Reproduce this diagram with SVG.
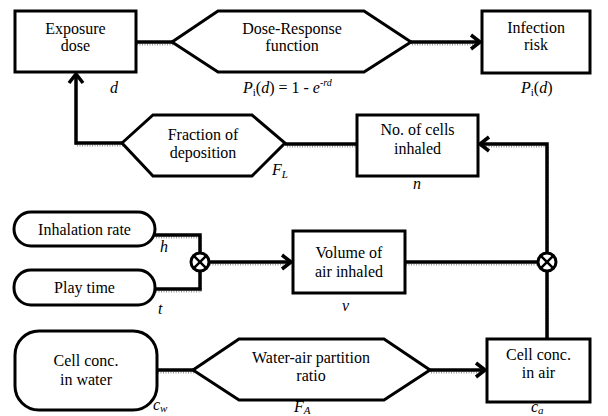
<svg xmlns="http://www.w3.org/2000/svg" width="608" height="416" viewBox="0 0 608 416" font-family="Liberation Serif, Times New Roman, Tinos, Noto Serif, DejaVu Serif, serif">
<defs>
<style>
text{font-family:"Liberation Serif","Times New Roman",Tinos,"Noto Serif","DejaVu Serif",serif}
.box{fill:#fff;stroke:#000;stroke-width:3}
.t{font-size:16px;text-anchor:middle;fill:#000}
.lab{font-size:16px;font-style:italic;fill:#000}
.ln{fill:none;stroke:#000;stroke-width:3.5;stroke-linejoin:miter}
.sh{fill:none;stroke:#9a9a9a;stroke-width:2;stroke-dasharray:1 1.5}
.mul{fill:#fff;stroke:#000;stroke-width:3}
</style>
<marker id="arr" markerUnits="userSpaceOnUse" viewBox="-12 -9 14 18" refX="0" refY="0" markerWidth="14" markerHeight="18" orient="auto">
<path d="M -9 -7 L 0 0 L -9 7" fill="none" stroke="#000" stroke-width="3.5"/>
</marker>
</defs>
<rect width="608" height="416" fill="#fff"/>

<g id="connectors">
<g transform="translate(1,2.5)">
<path class="sh" d="M136 42 H172"/>
<path class="sh" d="M411 42 H478"/>
<path class="sh" d="M122 143 H75 V76"/>
<path class="sh" d="M357 144 H285"/>
<path class="sh" d="M547 253 V144 H482"/>
<path class="sh" d="M155 235 H200 V253"/>
<path class="sh" d="M155 289 H200 V271"/>
<path class="sh" d="M209 262 H289"/>
<path class="sh" d="M405 262 H538"/>
<path class="sh" d="M547 339 V271"/>
<path class="sh" d="M157 370 H193"/>
<path class="sh" d="M430 370 H483"/>
</g>
<path class="ln" d="M136 42 H172"/>
<path class="ln" d="M411 42 H480" marker-end="url(#arr)"/>
<path class="ln" d="M122 143 H76 V74" marker-end="url(#arr)"/>
<path class="ln" d="M357 144 H285"/>
<path class="ln" d="M547 253 V144 H480" marker-end="url(#arr)"/>
<path class="ln" d="M155 235 H200 V253"/>
<path class="ln" d="M155 289 H200 V271"/>
<path class="ln" d="M209 262 H291" marker-end="url(#arr)"/>
<path class="ln" d="M405 262 H538"/>
<path class="ln" d="M547 339 V271"/>
<path class="ln" d="M157 370 H193"/>
<path class="ln" d="M430 370 H485" marker-end="url(#arr)"/>
</g>

<g id="mult1">
<circle class="mul" cx="200" cy="262" r="9"/>
<path d="M193.6 255.6 L206.4 268.4 M206.4 255.6 L193.6 268.4" stroke="#000" stroke-width="2.5"/>
</g>
<g id="mult2">
<circle class="mul" cx="547" cy="262" r="9"/>
<path d="M540.6 255.6 L553.4 268.4 M553.4 255.6 L540.6 268.4" stroke="#000" stroke-width="2.5"/>
</g>

<g id="exposure">
<rect class="box" x="15" y="11" width="121" height="61"/>
<text class="t" x="75.5" y="34">Exposure</text>
<text class="t" x="75.5" y="51">dose</text>
<text class="lab" x="110" y="93">d</text>
</g>

<g id="doseresponse">
<polygon class="box" points="172,42 218,11 364,11 411,42 364,72 218,72"/>
<text class="t" x="292" y="34">Dose-Response</text>
<text class="t" x="292" y="51">function</text>
<text class="lab" x="243" y="93">P<tspan font-style="normal" font-size="11" dy="3">i</tspan><tspan dy="-3" font-style="normal">(</tspan>d<tspan font-style="normal">) = 1 - </tspan>e<tspan font-size="10" dy="-7">-rd</tspan></text>
</g>

<g id="infection">
<rect class="box" x="482" y="11" width="108" height="62"/>
<text class="t" x="536" y="33">Infection</text>
<text class="t" x="536" y="50">risk</text>
<text class="lab" x="521" y="93">P<tspan font-style="normal" font-size="11" dy="3">i</tspan><tspan dy="-3" font-style="normal">(</tspan>d<tspan font-style="normal">)</tspan></text>
</g>

<g id="fraction">
<polygon class="box" points="122,143 153,115 252,115 285,143 252,176 153,176"/>
<text class="t" x="203" y="140">Fraction of</text>
<text class="t" x="203" y="158">deposition</text>
<text class="lab" x="272" y="175">F<tspan font-size="11" dy="3">L</tspan></text>
</g>

<g id="cellsinhaled">
<rect class="box" x="357" y="115" width="121" height="61"/>
<text class="t" x="417.5" y="135">No. of cells</text>
<text class="t" x="417.5" y="154">inhaled</text>
<text class="lab" x="413" y="189">n</text>
</g>

<g id="inhalation">
<rect class="box" x="14" y="212" width="141" height="34" rx="17"/>
<text class="t" x="84.5" y="235">Inhalation rate</text>
<text class="lab" x="160" y="252">h</text>
</g>

<g id="playtime">
<rect class="box" x="14" y="270" width="141" height="35" rx="17"/>
<text class="t" x="84.5" y="293">Play time</text>
<text class="lab" x="158" y="314">t</text>
</g>

<g id="volume">
<rect class="box" x="293" y="231" width="112" height="62"/>
<text class="t" x="349" y="258">Volume of</text>
<text class="t" x="349" y="277">air inhaled</text>
<text class="lab" x="342" y="311">v</text>
</g>

<g id="cellwater">
<rect class="box" x="15" y="331" width="142" height="79" rx="24"/>
<text class="t" x="86" y="366">Cell conc.</text>
<text class="t" x="86" y="385">in water</text>
<text class="lab" x="153" y="410">c<tspan font-size="11" dy="2">w</tspan></text>
</g>

<g id="partition">
<polygon class="box" points="193,370 239,339 384,339 430,370 384,400 239,400"/>
<text class="t" x="311" y="363">Water-air partition</text>
<text class="t" x="311" y="381">ratio</text>
<text class="lab" x="294" y="412">F<tspan font-size="11" dy="2">A</tspan></text>
</g>

<g id="cellair">
<rect class="box" x="487" y="339" width="103" height="63"/>
<text class="t" x="538.5" y="360">Cell conc.</text>
<text class="t" x="538.5" y="378">in air</text>
<text class="lab" x="531" y="412">c<tspan font-size="11" dy="2">a</tspan></text>
</g>
</svg>
